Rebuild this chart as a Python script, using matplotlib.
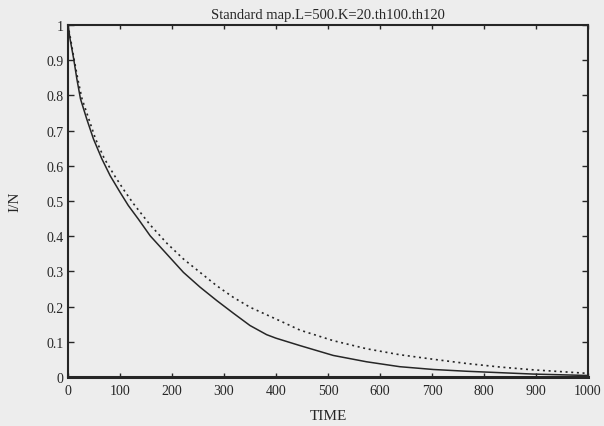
import matplotlib
matplotlib.use("Agg")
import matplotlib.pyplot as plt

# values
time_solid = [0, 4, 11, 17, 24, 36, 49, 65, 81, 100, 116, 135, 158, 190, 222, 254, 286, 318, 350,
              382, 400, 446, 510, 574, 638, 703, 767, 831, 895, 1000]
frac_solid = [1.0, 0.96, 0.903, 0.847, 0.79, 0.733, 0.676, 0.62, 0.572, 0.525, 0.487, 0.449, 0.401,
              0.349, 0.297, 0.255, 0.217, 0.181, 0.146, 0.12, 0.11, 0.089, 0.061, 0.043, 0.029, 0.021,
              0.016, 0.012, 0.008, 0.004]

time_dotted = [0, 5, 12, 19, 27, 40, 53, 70, 89, 108, 126, 158, 190, 222, 254, 286, 318, 350, 414,
               446, 510, 574, 638, 703, 767, 831, 895, 1000]
frac_dotted = [1.0, 0.96, 0.9, 0.845, 0.79, 0.733, 0.676, 0.62, 0.573, 0.53, 0.492, 0.432, 0.38, 0.335,
               0.297, 0.259, 0.226, 0.198, 0.155, 0.133, 0.103, 0.08, 0.063, 0.05, 0.038, 0.028, 0.02,
               0.01]

xticks = [0, 100, 200, 300, 400, 500, 600, 700, 800, 900, 1000]
yticks = [0, 0.1, 0.2, 0.3, 0.4, 0.5, 0.6, 0.7, 0.8, 0.9, 1]
ytick_labels = ["0", "0.1", "0.2", "0.3", "0.4", "0.5", "0.6", "0.7", "0.8", "0.9", "1"]

bg = "#ededed"
ink = "#262626"

plt.rcParams["font.family"] = ["Liberation Serif", "DejaVu Serif"]

fig = plt.figure(figsize=(6.04, 4.27), dpi=100, facecolor=bg)
ax = fig.add_axes([0.1126, 0.115, 0.8609, 0.824])
ax.set_facecolor(bg)

ax.plot(time_solid, frac_solid, color=ink, lw=1.1, ls="-")
ax.plot(time_dotted, frac_dotted, color=ink, lw=1.2, ls=(0, (1.2, 2.2)))

ax.set_xlim(0, 1000)
ax.set_ylim(0, 1)
ax.set_xticks(xticks)
ax.set_yticks(yticks)
ax.set_yticklabels(ytick_labels)
ax.tick_params(direction="in", top=True, right=True, length=4, width=1, colors=ink,
               labelsize=10, pad=3)
ax.tick_params(axis="x", length=3, pad=5)

for side, sp in ax.spines.items():
    sp.set_color(ink)
    sp.set_linewidth(2.2 if side == "bottom" else 1.5)

ax.set_title("Standard map.L=500.K=20.th100.th120", fontsize=10.5, color=ink, pad=5)
ax.set_xlabel("TIME", fontsize=11, color=ink, labelpad=9)
ax.set_ylabel("I/N", fontsize=11, color=ink, labelpad=18)

fig.savefig("out.png", dpi=100, facecolor=bg)
